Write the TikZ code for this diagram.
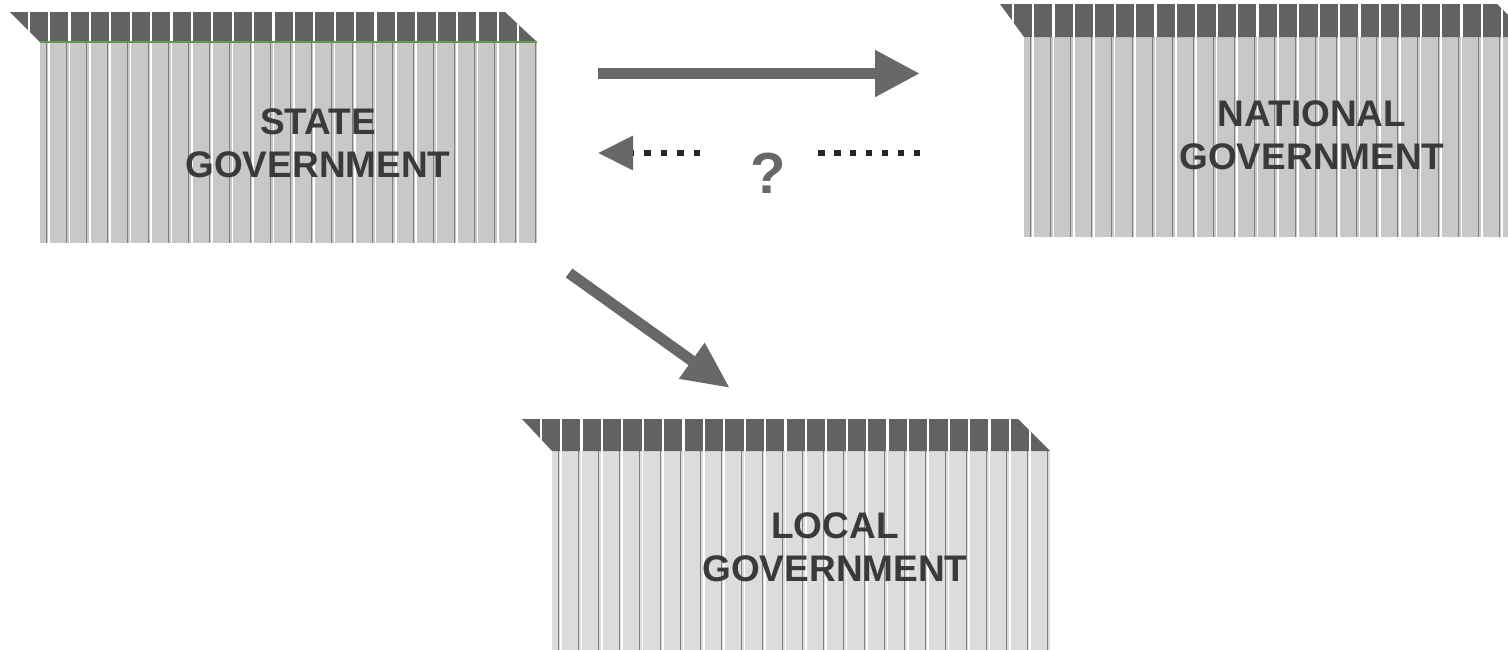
\documentclass[tikz,border=0pt]{standalone}
\usepackage{fontspec}
\setmainfont{Liberation Sans}
\usetikzlibrary{arrows.meta}
\definecolor{bandgray}{HTML}{626262}
\definecolor{bodygray}{HTML}{C8C8C8}
\definecolor{bodylight}{HTML}{DCDCDC}
\definecolor{stripegray}{HTML}{7E7E7E}
\definecolor{arrowgray}{HTML}{686868}
\definecolor{textgray}{HTML}{3A3A3A}
\definecolor{bandgreen}{HTML}{5E9A50}
% #1 top-left x, #2 bottom-left x, #3 top-right x, #4 bottom-right x,
% #5 band top y, #6 band bottom y, #7 body bottom y, #8 body colour
\newcommand\govbox[8]{%
  \fill[#8] (#2,#6) rectangle (#4,#7);
  \begin{scope}
    \clip (#2,#6) rectangle (#4,#7);
    \foreach \k in {0,...,26} {
      \draw[stripegray, line width=1pt] ({#2+6+\k*20.4},#6) -- ({#2+6+\k*20.4},#7);
      \draw[white, line width=1.6pt] ({#2+9+\k*20.4},#6) -- ({#2+9+\k*20.4},#7);
    }
  \end{scope}
  \fill[bandgray] (#1,#5) -- (#3,#5) -- (#4,#6) -- (#2,#6) -- cycle;
  \begin{scope}
    \clip (#1,#5) -- (#3,#5) -- (#4,#6) -- (#2,#6) -- cycle;
    \foreach \k in {-2,...,26} {
      \draw[white, line width=2.2pt] ({#2+9+\k*20.4},#5) -- ({#2+9+\k*20.4},#6);
    }
  \end{scope}
}
\begin{document}
\begin{tikzpicture}[x=1pt,y=-1pt,
  govtext/.style={font=\fontsize{37}{43}\selectfont\bfseries, text=textgray, align=center, inner sep=0pt},
  bigarrow/.style={draw=arrowgray, line width=11pt, -{Triangle[length=45pt,width=44pt]}},
  diagarrow/.style={draw=arrowgray, line width=11pt, -{Triangle[length=47pt,width=41pt]}},
  dotline/.style={draw=black!85, line width=6.5pt},
]
\useasboundingbox (0,0) rectangle (1508,649);
\begin{scope}
\clip (0,0) rectangle (1508,649);
% boxes
\govbox{10}{40}{505}{537}{12}{42}{243}{bodygray}
\draw[bandgreen, line width=1.2pt] (40,42) -- (537,42);
\govbox{1000}{1024}{1497}{1530}{4}{37}{237}{bodygray}
\govbox{522}{552}{1018}{1050}{419}{451}{660}{bodylight}
\end{scope}

% labels
\node[govtext] (state) at (318,143.5) {STATE\\GOVERNMENT};
\node[govtext] (national) at (1312,135.5) {NATIONAL\\GOVERNMENT};
\node[govtext] (local) at (835,547.5) {LOCAL\\GOVERNMENT};
\node[font=\fontsize{58}{58}\selectfont\bfseries, text=arrowgray, inner sep=0pt] (q) at (768,173.5) {?};

% connector end points
\coordinate (s2nA) at (598,73.5);
\coordinate (s2nB) at (920,73.5);
\coordinate (n2sStart) at (920,153);
\coordinate (qR) at (818,153);
\coordinate (qL) at (700,153);
\coordinate (n2sEnd) at (598,153);
\coordinate (s2lA) at (569,273);
\coordinate (s2lB) at (730,388);

% connectors
\draw[bigarrow] (s2nA) -- (s2nB);
\draw[dotline, dash pattern=on 6.5pt off 9.4pt] (n2sStart) -- (qR);
\draw[dotline, dash pattern=on 6.5pt off 10pt, -{Triangle[length=35pt,width=33pt,fill=arrowgray,color=arrowgray]}] (qL) -- (n2sEnd);
\draw[diagarrow] (s2lA) -- (s2lB);
\end{tikzpicture}
\end{document}
